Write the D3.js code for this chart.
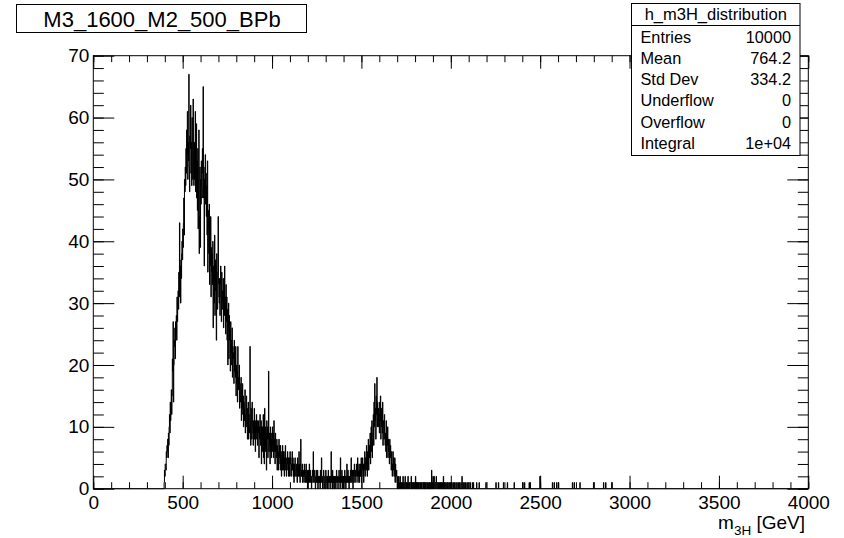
<!DOCTYPE html>
<html><head><meta charset="utf-8">
<script src="https://cdn.jsdelivr.net/npm/d3@7"></script>
<style>
body{margin:0;background:#fff}
svg{display:block}
text{font-family:"Liberation Sans",Arial,Helvetica,sans-serif;fill:#000}
</style>
</head><body>
<svg id="c" width="844" height="538"></svg>
<script>
// ---------------- data ----------------
const histTitle = "M3_1600_M2_500_BPb";
const statsName = "h_m3H_distribution";
const statsLabels = ["Entries", "Mean", "Std Dev", "Underflow", "Overflow", "Integral"];
const statsValues = ["10000", "764.2", "334.2", "0", "0", "1e+04"];
const xMajorTicks = [0, 500, 1000, 1500, 2000, 2500, 3000, 3500, 4000];
const yMajorTicks = [0, 10, 20, 30, 40, 50, 60, 70];
const xRange = [0, 4000];
const yRange = [0, 70];
const binWidth = 2;       // GeV
const nBins = 2000;
const firstBinLow = 394;  // GeV, low edge of first entry of `counts`
const counts = [
0,1,3,2,4, 4,3,6,5,7, 6,8,5,9,7, 10,12,9,14,11, 13,16,12,15,21,
19,27,14,20,24, 23,26,21,27,25, 28,24,31,27,30, 32,29,35,31,43, 33,36,30,37,34,
38,40,37,42,39, 43,47,41,50,48, 52,49,55,51,58, 54,61,50,56,53, 67,52,48,57,55,
62,51,56,49,60, 53,50,63,51,49, 56,50,52,61,48, 51,59,47,53,45, 55,42,50,58,38,
44,52,39,50,46, 53,49,47,55,51, 65,47,52,36,50, 48,54,46,51,44, 49,41,53,35,45,
42,38,46,33,40, 36,44,31,39,35, 38,33,40,26,36, 34,30,41,28,37, 32,36,24,38,30,
29,35,44,33,31, 30,34,28,33,36, 31,27,35,29,32, 30,34,26,32,28, 36,29,31,25,33,
27,31,24,29,20, 26,30,21,28,24, 25,19,27,22,24, 20,26,18,23,21, 22,17,24,19,21,
18,23,15,20,17, 19,14,23,16,18, 16,20,13,17,15, 14,18,11,16,13, 17,12,15,10,14,
13,11,16,9,12, 12,15,10,13,8, 11,14,8,12,10, 9,23,11,7,13, 12,8,14,10,9,
7,11,9,13,8, 10,6,11,9,12, 8,11,7,10,9, 11,5,10,8,12, 9,7,11,4,10,
6,10,8,12,5, 9,4,13,7,10, 6,9,3,11,8, 10,5,8,19,6, 7,9,4,10,6,
8,5,9,6,10, 7,9,5,11,6, 8,4,9,6,7, 5,8,3,7,4, 6,3,8,5,7,
4,7,3,6,2, 5,3,7,4,6, 3,6,2,5,4, 7,3,5,2,4, 4,6,3,5,2,
3,5,2,6,4, 5,2,4,3,6, 3,5,2,4,1, 4,2,5,3,2, 2,4,3,1,5,
3,2,4,6,2, 4,1,3,8,2, 3,2,4,1,3, 2,3,1,4,2, 3,1,2,4,1,
2,3,0,2,3, 1,2,4,1,2, 3,1,2,0,2, 2,3,1,6,2, 1,2,3,1,0,
2,1,3,2,1, 3,0,2,1,2, 1,2,0,3,1, 2,5,1,2,0, 1,2,3,0,2,
2,0,1,3,1, 1,2,0,2,0, 3,1,2,1,2, 0,2,1,6,1, 2,0,3,0,2,
1,2,0,2,1, 2,0,1,3,1, 1,2,0,1,2, 3,1,2,0,5, 1,2,1,3,0,
2,1,2,0,2, 1,3,1,2,0, 2,1,4,1,2, 3,1,2,0,2, 1,2,3,1,5,
2,1,3,2,0, 3,2,1,4,2, 2,3,1,2,4, 3,2,5,1,3, 2,4,1,3,2,
4,2,5,1,3, 3,5,2,4,1, 4,3,6,2,5, 5,3,7,4,2, 6,4,8,3,5,
7,5,9,4,8, 10,6,11,5,8, 9,12,7,14,10, 17,11,13,8,15, 12,18,10,14,11,
13,10,12,9,14, 11,15,8,13,10, 12,9,14,7,11, 10,8,12,9,7, 9,6,11,5,8,
7,10,5,8,6, 6,4,8,5,7, 5,3,6,4,2, 4,6,3,5,2, 3,5,1,4,2,
2,3,1,0,2, 1,0,2,1,0, 1,2,0,1,1, 0,1,1,0,2, 1,0,1,1,0,
2,1,0,1,0, 1,0,1,2,1, 0,1,0,1,1, 1,0,2,0,1, 0,1,1,0,1,
1,0,1,0,2, 0,1,0,1,0, 1,0,1,0,0, 1,1,0,1,0, 0,1,0,1,1,
1,0,1,0,1, 0,1,0,0,1, 1,0,1,0,0, 0,1,0,1,0, 1,0,0,0,3,
0,1,0,2,1, 0,2,1,0,1, 1,0,2,1,0, 1,1,0,1,0, 0,1,0,1,0,
1,0,1,0,0, 1,0,2,0,1, 0,1,0,0,1, 0,0,1,0,1, 1,0,0,1,0,
0,1,0,0,1, 0,1,0,0,0, 1,0,0,1,0, 0,0,1,0,0, 1,0,0,0,1,
0,0,1,0,0, 0,1,0,0,2, 0,0,1,0,0, 1,0,0,0,1, 0,0,0,1,0,
0,1,0,0,0, 0,0,1,0,0, 0,0,0,1,0, 0,1,0,0,0
];
// sparse isolated entries in the far tail (GeV, entries)
const tailMass = [2144, 2158, 2196, 2252, 2266, 2294, 2316, 2354, 2402, 2412, 2438, 2444,
                  2498, 2568, 2578, 2592, 2602, 2680, 2690, 2722, 2798, 2854, 2866, 2900];
const tailCounts = [1, 1, 1, 1, 1, 1, 1, 1, 1, 1, 1, 1,
                    2, 1, 1, 1, 1, 1, 1, 1, 1, 1, 1, 1];

// ---------------- layout ----------------
const svg = d3.select("#c");
const frame = {left: 93.3, right: 808.3, top: 55.7, bottom: 488.7};

const x = d3.scaleLinear().domain(xRange).range([frame.left, frame.right]);
const y = d3.scaleLinear().domain(yRange).range([frame.bottom, frame.top]);

// build the full binned histogram
const bins = new Array(nBins).fill(0);
counts.forEach((c, i) => { bins[firstBinLow / binWidth + i] = c; });
tailMass.forEach((m, i) => { bins[Math.floor(m / binWidth)] += tailCounts[i]; });
const pts = bins.map((c, i) => [i * binWidth, c]);
pts.push([nBins * binWidth, bins[nBins - 1]]);

const line = d3.line().x(d => x(d[0])).y(d => y(d[1])).curve(d3.curveStepAfter);
svg.append("path").attr("d", line(pts))
  .attr("fill", "none").attr("stroke", "#000").attr("stroke-width", 1);

// frame
svg.append("rect").attr("x", frame.left).attr("y", frame.top)
  .attr("width", frame.right - frame.left).attr("height", frame.bottom - frame.top)
  .attr("fill", "none").attr("stroke", "#000").attr("stroke-width", 1);

const xMinor = d3.range(xRange[0], xRange[1] + 1, 100);
const yMinor = d3.range(yRange[0], yRange[1] + 0.001, 2);

function styleAxis(g) {
  g.select(".domain").remove();
  g.selectAll(".tick line").attr("stroke", "#000").attr("stroke-width", 1);
  g.selectAll("text").attr("font-size", 19).attr("font-family", "'Liberation Sans',Arial,sans-serif").attr("fill", "#000");
}

// bottom axis
svg.append("g").attr("transform", `translate(0,${frame.bottom})`)
  .call(d3.axisBottom(x).tickValues(xMinor).tickSize(-6.5).tickFormat(""))
  .call(styleAxis);
svg.append("g").attr("transform", `translate(0,${frame.bottom})`)
  .call(d3.axisBottom(x).tickValues(xMajorTicks).tickSize(-13).tickPadding(7).tickFormat(d3.format("d")))
  .call(styleAxis);
// top axis
svg.append("g").attr("transform", `translate(0,${frame.top})`)
  .call(d3.axisTop(x).tickValues(xMinor).tickSize(-6.5).tickFormat(""))
  .call(styleAxis);
svg.append("g").attr("transform", `translate(0,${frame.top})`)
  .call(d3.axisTop(x).tickValues(xMajorTicks).tickSize(-13).tickFormat(""))
  .call(styleAxis);
// left axis
svg.append("g").attr("transform", `translate(${frame.left},0)`)
  .call(d3.axisLeft(y).tickValues(yMinor).tickSize(-10.5).tickFormat(""))
  .call(styleAxis);
svg.append("g").attr("transform", `translate(${frame.left},0)`)
  .call(d3.axisLeft(y).tickValues(yMajorTicks).tickSize(-21).tickPadding(4).tickFormat(d3.format("d")))
  .call(styleAxis);
// right axis
svg.append("g").attr("transform", `translate(${frame.right},0)`)
  .call(d3.axisRight(y).tickValues(yMinor).tickSize(-10.5).tickFormat(""))
  .call(styleAxis);
svg.append("g").attr("transform", `translate(${frame.right},0)`)
  .call(d3.axisRight(y).tickValues(yMajorTicks).tickSize(-21).tickFormat(""))
  .call(styleAxis);

// x axis title m_{3H} [GeV]
const xt = svg.append("text").attr("x", 805).attr("y", 529).attr("text-anchor", "end")
  .attr("font-size", 19);
xt.append("tspan").text("m");
xt.append("tspan").attr("font-size", 13.5).attr("dy", 6).text("3H");
xt.append("tspan").attr("dy", -6).text(" [GeV]");

// title box
svg.append("rect").attr("x", 16.5).attr("y", 4.5).attr("width", 290).attr("height", 28)
  .attr("fill", "#fff").attr("stroke", "#000").attr("stroke-width", 1);
svg.append("text").attr("x", 162).attr("y", 26.5).attr("text-anchor", "middle")
  .attr("font-size", 22).text(histTitle);

// stats box
const sb = {x: 631.5, y: 3.5, w: 168.5, h: 152};
svg.append("rect").attr("x", sb.x).attr("y", sb.y).attr("width", sb.w).attr("height", sb.h)
  .attr("fill", "#fff").attr("stroke", "#000").attr("stroke-width", 1);
svg.append("line").attr("x1", sb.x).attr("x2", sb.x + sb.w).attr("y1", 25.5).attr("y2", 25.5)
  .attr("stroke", "#000");
svg.append("text").attr("x", sb.x + sb.w / 2).attr("y", 19.5).attr("text-anchor", "middle")
  .attr("font-size", 16.5).text(statsName);
statsLabels.forEach((lab, i) => {
  const by = 42.5 + 21.3 * i;
  svg.append("text").attr("x", 640.5).attr("y", by).attr("font-size", 16.3).text(lab);
  svg.append("text").attr("x", 791).attr("y", by).attr("text-anchor", "end")
    .attr("font-size", 16.3).text(statsValues[i]);
});
</script>
</body></html>
